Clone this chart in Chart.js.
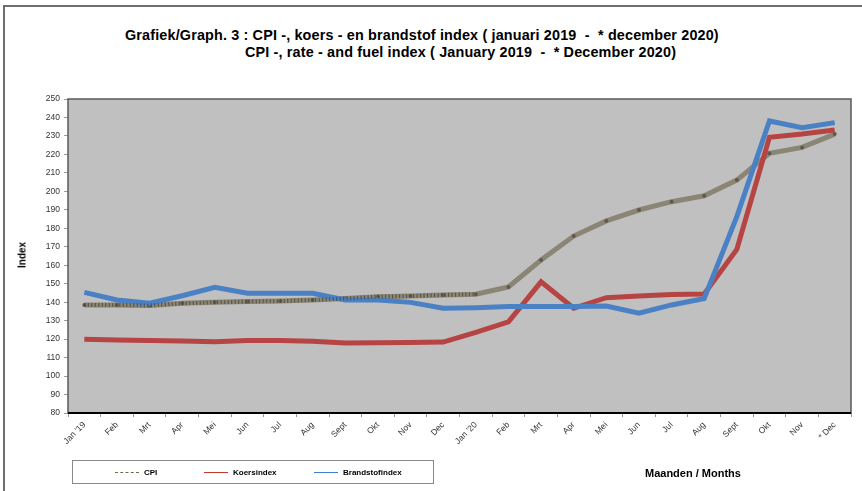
<!DOCTYPE html>
<html>
<head>
<meta charset="utf-8">
<script src="https://cdn.jsdelivr.net/npm/chart.js@4.4.1/dist/chart.umd.min.js"></script>
<style>
    html, body { margin: 0; padding: 0; background: #fff; overflow: hidden; }
    body { width: 862px; height: 491px; position: relative; font-family: "Liberation Sans", Arial, sans-serif; }
    #frame { position: absolute; left: 3px; top: 5px; width: 900px; height: 520px; border-left: 2px solid #6e6e6e; border-top: 2px solid #6e6e6e; }
    #chartBox { position: absolute; left: 0; top: 0; width: 862px; height: 491px; }
    .title { position: absolute; font-weight: bold; font-size: 14.4px; letter-spacing: 0.15px; color: #000; white-space: pre; }
    #legend { position: absolute; left: 72px; top: 460px; width: 360px; height: 22px; border: 1px solid #8a8a8a; font-size: 8px; font-weight: bold; }
    .item { position: absolute; top: 7px; white-space: nowrap; }
    .item span.ln { display: inline-block; width: 24px; height: 0; vertical-align: middle; margin-right: 5px; }
    #months { position: absolute; left: 645px; top: 467px; font-size: 11px; font-weight: bold; }
    #ylab { position: absolute; left: 22px; top: 255px; font-size: 10px; font-weight: bold; transform: translate(-50%, -50%) rotate(-90deg); }
</style>
</head>
<body>
<div id="frame"></div>
<div class="title" style="left:125px; top:27px;">Grafiek/Graph. 3 : CPI -, koers - en brandstof index ( januari 2019  -  * december 2020)</div>
<div class="title" style="left:245px; top:44px;">CPI -, rate - and fuel index ( January 2019  -  * December 2020)</div>
<div id="chartBox"><canvas id="indexChart" width="862" height="491"></canvas></div>
<div id="ylab">Index</div>
<div id="legend">
    <div class="item" style="left:42px;"><span class="ln" style="border-top:1px dashed #6f6a58;"></span>CPI</div>
    <div class="item" style="left:131px;"><span class="ln" style="border-top:1px solid #c0392b;"></span>Koersindex</div>
    <div class="item" style="left:241px;"><span class="ln" style="border-top:1px solid #3d7fd0;"></span>Brandstofindex</div>
</div>
<div id="months">Maanden / Months</div>
<script>
const months = ["Jan '19", "Feb", "Mrt", "Apr", "Mei", "Jun", "Jul", "Aug", "Sept", "Okt", "Nov", "Dec",
    "Jan '20", "Feb", "Mrt", "Apr", "Mei", "Jun", "Jul", "Aug", "Sept", "Okt", "Nov", "* Dec"];

const cpi = [138.5, 138.5, 138.2, 139.4, 140.0, 140.3, 140.6, 141.2, 142.0, 143.0, 143.3, 143.9,
    144.3, 148.2, 162.8, 175.8, 184.0, 189.9, 194.4, 197.6, 206.1, 220.6, 223.8, 231.0];
const koersindex = [119.9, 119.5, 119.3, 119.0, 118.6, 119.3, 119.3, 118.9, 117.9, 118.1, 118.2, 118.4,
    123.7, 129.4, 151.0, 136.7, 142.4, 143.3, 144.2, 144.4, 168.6, 229.3, 231.0, 233.2];
const brandstofindex = [145.3, 141.2, 139.4, 143.5, 148.0, 144.8, 144.8, 144.8, 141.2, 141.2, 139.9, 136.7,
    137.0, 137.6, 137.6, 137.6, 137.9, 134.0, 138.5, 142.0, 186.3, 238.1, 234.5, 237.2];

const yMin = 80;
const yMax = 250;
const yStep = 10;

// grey plot background + frame
const plotArea = {
    id: "plotArea",
    beforeDatasetsDraw(chart) {
        const { ctx, chartArea: a } = chart;
        ctx.save();
        ctx.fillStyle = "#c0c0c0";
        ctx.fillRect(a.left, a.top, a.right - a.left, a.bottom - a.top);
        ctx.strokeStyle = "#5a5a5a";
        ctx.lineWidth = 1.5;
        ctx.strokeRect(a.left, a.top, a.right - a.left, a.bottom - a.top);
        ctx.restore();
    },
    afterDatasetsDraw(chart) {
        const { ctx, chartArea: a } = chart;
        // hatched look on the 2019 part of the CPI line
        const pts = chart.getDatasetMeta(0).data.slice(0, 13);
        ctx.save();
        ctx.beginPath();
        pts.forEach((p, i) => i ? ctx.lineTo(p.x, p.y) : ctx.moveTo(p.x, p.y));
        ctx.strokeStyle = "rgba(70,64,48,0.75)";
        ctx.lineWidth = 4;
        ctx.setLineDash([1, 2.5]);
        ctx.stroke();
        ctx.restore();
        // black x axis line
        ctx.save();
        ctx.strokeStyle = "#000";
        ctx.lineWidth = 2;
        ctx.beginPath();
        ctx.moveTo(a.left, a.bottom);
        ctx.lineTo(a.right, a.bottom);
        ctx.stroke();
        ctx.restore();
    }
};

const ctx = document.getElementById("indexChart").getContext("2d");
new Chart(ctx, {
    type: "line",
    data: {
        labels: months,
        datasets: [{
            label: "CPI",
            data: cpi,
            borderColor: "#8a8575",
            borderWidth: 5,
            pointRadius: 2,
            pointBackgroundColor: "#5f5a4b",
            pointBorderWidth: 0,
            tension: 0,
            order: 3
        }, {
            label: "Koersindex",
            data: koersindex,
            borderColor: "#b64443",
            borderWidth: 5,
            pointRadius: 0,
            tension: 0,
            order: 2
        }, {
            label: "Brandstofindex",
            data: brandstofindex,
            borderColor: "#4a80c4",
            borderWidth: 5,
            pointRadius: 0,
            tension: 0,
            order: 1
        }]
    },
    options: {
        responsive: false,
        animation: false,
        layout: { padding: { left: 38, top: 99, right: 11, bottom: 38 } },
        plugins: {
            legend: { display: false },
            title: { display: false },
            tooltip: { enabled: false }
        },
        scales: {
            x: {
                offset: true,
                afterFit: (s) => { s.height = 40; },
                border: { display: false },
                grid: { offset: true, drawOnChartArea: false, tickLength: 4, color: "#999" },
                ticks: {
                    maxRotation: 45,
                    minRotation: 45,
                    autoSkip: false,
                    color: "#333",
                    font: { family: "Liberation Sans, Arial, sans-serif", size: 8.5 }
                }
            },
            y: {
                min: yMin,
                max: yMax,
                afterFit: (s) => { s.width = 30; },
                border: { display: false },
                grid: { drawOnChartArea: false, tickLength: 4, color: "#999" },
                ticks: {
                    stepSize: yStep,
                    color: "#333",
                    padding: 4,
                    font: { family: "Liberation Sans, Arial, sans-serif", size: 8.5 }
                }
            }
        }
    },
    plugins: [plotArea]
});
</script>
</body>
</html>
